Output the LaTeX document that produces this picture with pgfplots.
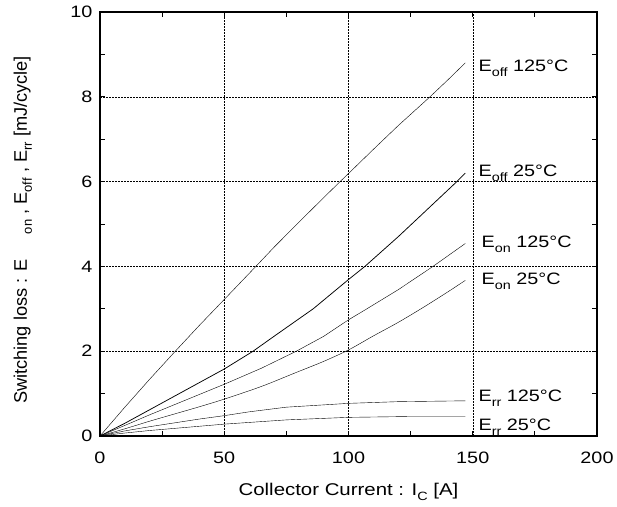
\documentclass[border=0pt]{standalone}
\usepackage{fontspec}
\setmainfont{Liberation Sans}[FakeStretch=1.2]
\newfontfamily\ylabfont{Liberation Sans}
\usepackage{graphicx}
\usepackage{pgfplots}
\pgfplotsset{compat=1.18}
\newcommand\sub[1]{\raisebox{-5pt}{\fontsize{12}{13}\selectfont #1}}
\newcommand\ysub[1]{\raisebox{-5pt}{\fontsize{13}{14}\selectfont #1}}
\begin{document}
\begin{tikzpicture}
\begin{axis}[
  scale only axis, width=497pt, height=424pt,
  xmin=0, xmax=200, ymin=0, ymax=10,
  xtick={0,50,100,150,200}, ytick={0,2,4,6,8,10},
  minor xtick={25,75,125,175}, minor ytick={1,3,5,7,9},
  tick align=inside, major tick length=5pt, minor tick length=5pt,
  tick style={black, line width=0.9pt},
  axis line style={line width=1.6pt},
  grid=major,
  major grid style={black, line width=0.5pt, dash pattern=on 2pt off 1pt},
  /pgf/number format/assume math mode=true,
  ticklabel style={font=\fontsize{16.5}{19}\selectfont},
  xticklabel style={anchor=base, yshift=-27pt},
  yticklabel style={xshift=-4pt},
  xlabel={Collector Current : I\sub{C} [A]},
  xlabel style={font=\fontsize{17}{19}\selectfont, at={(axis description cs:0.5,-0.1415)}, anchor=base},
  ylabel={\ylabfont Switching loss : E\hspace{1.4em}\ysub{on} , E\ysub{off} , E\ysub{rr} [mJ/cycle]},
  ylabel style={font=\fontsize{18.2}{20}\selectfont, at={(axis description cs:-0.147,0.486)}, anchor=base},
  cycle list={{black, line width=0.75pt, no marks, smooth, tension=0.5}},
]
% Eoff 125C
\addplot coordinates {(0,0) (10,0.68) (20,1.34) (30,1.98) (40,2.61) (50,3.22) (62.4,3.98) (70,4.45) (80,5.04) (90,5.62) (96.6,6.0) (100,6.19) (110,6.76) (120,7.32) (132.8,8.0) (140,8.4) (147,8.8)};
% Eoff 25C
\addplot coordinates {(0,0) (10,0.3) (20,0.62) (30,0.94) (40,1.26) (50,1.58) (61.6,2.0) (70,2.35) (85.8,3.0) (100,3.69) (106.6,4.0) (120,4.7) (130,5.25) (143.6,6.0) (147,6.2)};
% Eon 125C
\addplot coordinates {(0,0) (10,0.25) (20,0.5) (30,0.74) (40,0.98) (50,1.22) (65,1.6) (79,2.0) (90,2.35) (100,2.74) (107.4,3.0) (120,3.45) (134,4.0) (147,4.54)};
% Eon 25C
\addplot coordinates {(0,0) (10,0.17) (20,0.35) (30,0.52) (40,0.69) (50,0.87) (65,1.17) (79,1.5) (90,1.76) (100,2.03) (110,2.36) (120,2.68) (130,3.03) (140,3.4) (147,3.67)};
% Err 125C
\addplot coordinates {(0,0) (10,0.12) (20,0.22) (30,0.31) (40,0.4) (50,0.48) (60,0.57) (75,0.68) (100,0.77) (120,0.81) (147,0.83)};
% Err 25C
\addplot coordinates {(0,0) (10,0.07) (20,0.13) (30,0.18) (40,0.23) (50,0.28) (75,0.38) (100,0.44) (125,0.46) (147,0.46)};
\begin{scope}[every node/.style={anchor=base west, inner sep=0pt, font=\fontsize{16.5}{19}\selectfont}]
\node at (axis cs:152.3,8.6) {E\sub{off} 125°C};
\node at (axis cs:152.3,6.12) {E\sub{off} 25°C};
\node at (axis cs:153.5,4.44) {E\sub{on} 125°C};
\node at (axis cs:153.5,3.57) {E\sub{on} 25°C};
\node at (axis cs:152.3,0.81) {E\sub{rr} 125°C};
\node at (axis cs:152.3,0.14) {E\sub{rr} 25°C};
\end{scope}
\end{axis}
\pgfresetboundingbox
\path ([shift={(-100pt,-70pt)}]current axis.south west) rectangle ([shift={(20pt,12pt)}]current axis.north east);
\end{tikzpicture}
\end{document}
